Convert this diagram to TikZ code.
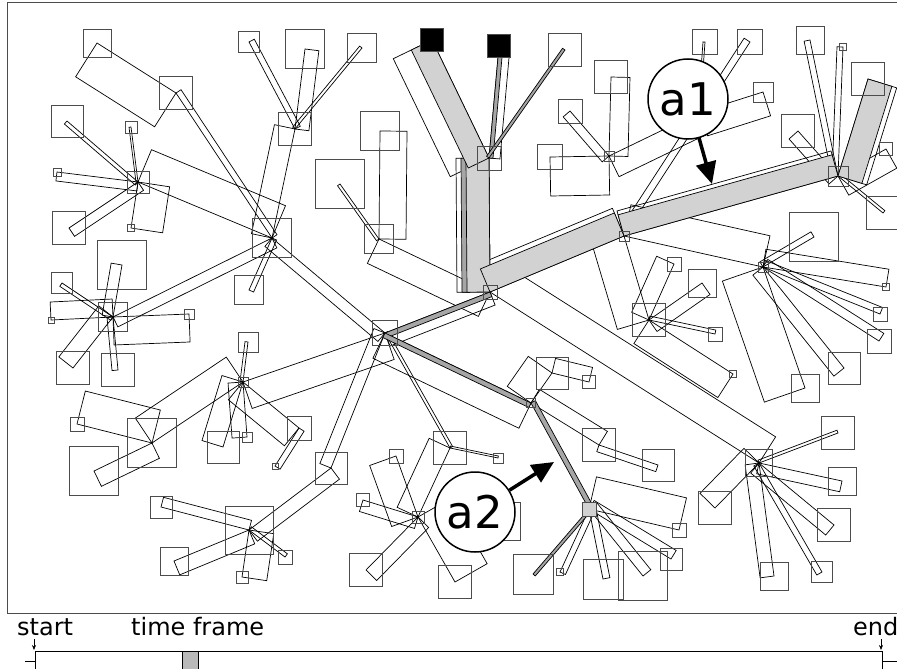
\documentclass[tikz,border=0pt]{standalone}
\usepackage{fontspec}
\setmainfont{DejaVu Sans}
\usetikzlibrary{arrows.meta, calc}

\pgfdeclarelayer{bg}
\pgfsetlayers{bg,main}

\tikzset{
	sq/.style={draw=black!70, line width=0.8pt, minimum size=#1pt, inner sep=0pt, outer sep=0pt},
	band/.style={draw=black, line width=0.7pt, line join=miter},
	hi/.style={fill=gray!35},
	dk/.style={fill=gray!70},
	lab/.style={circle, draw, fill=white, line width=1.5pt, minimum size=80pt, inner sep=0pt, font=\fontsize{45pt}{45pt}\selectfont},
	pointer/.style={-{Triangle[length=22pt,width=20pt]}, line width=3.5pt},
	tl/.style={inner sep=0pt, anchor=base west, font=\fontsize{24pt}{24pt}\selectfont},
}

% one edge of the tree: a strip from #2 to #3 of width #4
\newcommand{\tband}[4][]{%
	\draw[band,#1] (#2.center) -- (#3.center) -- ($(#3.center)!#4pt!-90:(#2.center)$) -- ($(#2.center)!#4pt!90:(#3.center)$) -- cycle;}

\begin{document}
\begin{tikzpicture}[x=1pt,y=-1pt]
	\useasboundingbox (0,0) rectangle (897,669);
	
	\draw [black!70, line width=0.9pt] (910,2) -- (7,2) -- (7,613) -- (910,613);
	
	% hubs
	\node (R) [sq=14] at (490,292) {};
	\node (H1) [sq=24] at (489,158) {};
	\node (H2) [sq=10] at (624,236) {};
	\node (H3) [sq=20] at (838,176) {};
	\node (H4) [sq=10] at (763,267) {};
	\node (H5) [sq=33] at (649,320) {};
	\node (H6) [sq=10] at (609,156) {};
	\node (X) [sq=10] at (700,112) {};
	\node (NA) [sq=29] at (379,239) {};
	\node (hA) [sq=39] at (272,238) {};
	\node (hB) [sq=22] at (138,182) {};
	\node (hC) [sq=33] at (295,129) {};
	\node (hD) [sq=29] at (113,317) {};
	\node (hE) [sq=25] at (385,333) {};
	\node (hF) [sq=10] at (243,382) {};
	\node (hG) [sq=48] at (249,530) {};
	\node (hJ) [sq=12] at (418,517) {};
	\node (hK) [sq=9] at (531,403) {};
	\node (hL) [sq=14, fill=gray!35] at (589,509) {};
	\node (hM) [sq=27] at (759,463) {};
	\node (B1) [sq=23, fill=black] at (499,46) {};
	\node (B2) [sq=23, fill=black] at (432,40) {};
	
	% leaves
	\node (n1) [sq=33] at (176,93) {};
	\node (l1) [sq=28] at (97,43) {};
	\node (aL) [sq=29] at (249,290) {};
	\node (bL1) [sq=32] at (67,121) {};
	\node (bL2) [sq=12] at (131,127) {};
	\node (bL3) [sq=8] at (57,172) {};
	\node (bL4) [sq=33] at (69,228) {};
	\node (bL5) [sq=7] at (131,228) {};
	\node (cL1) [sq=21] at (249,42) {};
	\node (cL2) [sq=39] at (305,49) {};
	\node (cL3) [sq=29] at (362,48) {};
	\node (dL1) [sq=21] at (62,283) {};
	\node (dL2) [sq=49] at (122,265) {};
	\node (dL3) [sq=6] at (51,320) {};
	\node (dL4) [sq=10] at (189,314) {};
	\node (dL5) [sq=33] at (73,368) {};
	\node (dL6) [sq=33] at (118,370) {};
	\node (fL1) [sq=20] at (248,342) {};
	\node (fN) [sq=49] at (152,443) {};
	\node (fL2) [sq=14] at (77,424) {};
	\node (fL3) [sq=49] at (94,471) {};
	\node (fL4) [sq=32] at (223,447) {};
	\node (fL5) [sq=10] at (247,437) {};
	\node (fN2) [sq=24] at (299,428) {};
	\node (fL6) [sq=6] at (275,466) {};
	\node (gL1) [sq=22] at (161,507) {};
	\node (gL2) [sq=28] at (174,561) {};
	\node (gL3) [sq=12] at (242,577) {};
	\node (gL4) [sq=14] at (285,557) {};
	\node (gN) [sq=32] at (331,468) {};
	\node (aaL1) [sq=49] at (340,184) {};
	\node (aaL2) [sq=39] at (380,131) {};
	\node (eN) [sq=33] at (450,448) {};
	\node (eL1) [sq=10] at (498,458) {};
	\node (jL1) [sq=14] at (396,456) {};
	\node (jL2) [sq=13] at (363,500) {};
	\node (jL3) [sq=33] at (366,570) {};
	\node (jL4) [sq=33] at (455,582) {};
	\node (jL5) [sq=38] at (501,521) {};
	\node (kN) [sq=32] at (552,373) {};
	\node (kL1) [sq=13] at (589,382) {};
	\node (kN2) [sq=33] at (599,445) {};
	\node (kL2) [sq=32] at (658,465) {};
	\node (lL1) [sq=40] at (533,574) {};
	\node (lL2) [sq=7] at (560,572) {};
	\node (lL3) [sq=40] at (603,579) {};
	\node (lL4) [sq=49] at (643,576) {};
	\node (lL5) [sq=22] at (671,559) {};
	\node (lL6) [sq=14] at (679,530) {};
	\node (mL1) [sq=33] at (838,433) {};
	\node (mL2) [sq=28] at (842,481) {};
	\node (mL3) [sq=33] at (834,525) {};
	\node (mL4) [sq=21] at (822,572) {};
	\node (mL5) [sq=28] at (774,576) {};
	\node (mL6) [sq=33] at (715,508) {};
	\node (pL1) [sq=14] at (674,264) {};
	\node (pL2) [sq=28] at (702,283) {};
	\node (pL3) [sq=14] at (715,334) {};
	\node (pL4) [sq=7] at (733,374) {};
	\node (qL1) [sq=49] at (814,237) {};
	\node (qL2) [sq=7] at (886,287) {};
	\node (qL3) [sq=14] at (880,314) {};
	\node (qL4) [sq=24] at (879,341) {};
	\node (qL5) [sq=32] at (844,368) {};
	\node (qL6) [sq=28] at (805,388) {};
	\node (tL1) [sq=28] at (810,40) {};
	\node (tL2) [sq=7] at (843,47) {};
	\node (tL3) [sq=33] at (868,79) {};
	\node (tL4) [sq=13] at (886,149) {};
	\node (tL5) [sq=33] at (883,213) {};
	\node (tL6) [sq=33] at (798,131) {};
	\node (sL1) [sq=33] at (611,77) {};
	\node (sL2) [sq=24] at (570,111) {};
	\node (sL3) [sq=25] at (550,157) {};
	\node (sL4) [sq=20] at (763,92) {};
	\node (xL) [sq=25] at (705,42) {};
	\node (wL1) [sq=25] at (750,42) {};
	\node (uL1) [sq=33] at (565,50) {};
	
	\begin{pgfonlayer}{bg}
	\tband{hB}{hA}{35}
	\tband{hA}{n1}{-6}
	\tband{n1}{l1}{40}
	\tband{hA}{aL}{5}
	\tband{hA}{hC}{21}
	\tband{hA}{hD}{11}
	\tband{hA}{hE}{-11}
	\tband{hC}{cL1}{-6}
	\tband{hC}{cL2}{-14}
	\tband{hC}{cL3}{3}
	\tband{hB}{bL1}{4}
	\tband{hB}{bL2}{2}
	\tband{hB}{bL3}{9}
	\tband{hB}{bL4}{10}
	\tband{hB}{bL5}{32}
	\tband{hD}{dL1}{4}
	\tband{hD}{dL2}{11}
	\tband{hD}{dL3}{-18}
	\tband{hD}{dL4}{-28}
	\tband{hD}{dL5}{-18}
	\tband{hD}{dL6}{-6}
	\tband{hF}{fL1}{3}
	\tband{hF}{fN}{-30}
	\tband{fN}{fL2}{-34}
	\tband{fN}{fL3}{17}
	\tband{hF}{fL4}{-22}
	\tband{hF}{fL5}{-15}
	\tband{hF}{fN2}{-23}
	\tband{fN2}{fL6}{6}
	\tband{hE}{hF}{28}
	\tband{hG}{gL1}{-10}
	\tband{hG}{gL2}{15}
	\tband{hG}{gL3}{25}
	\tband{hG}{gL4}{4}
	\tband{hG}{gN}{-14}
	\tband{gN}{hE}{12}
	\tband{NA}{aaL1}{3}
	\tband{NA}{aaL2}{-27}
	\tband{NA}{R}{-27}
	\tband{hE}{eN}{3}
	\tband{eN}{eL1}{2}
	\tband{eN}{hJ}{-23}
	\tband{hJ}{jL1}{28}
	\tband{hJ}{jL2}{12}
	\tband{hJ}{jL3}{15}
	\tband{hJ}{jL4}{37}
	\tband{hE}{hK}{-28}
	\tband{R}{hE}{14}
	\tband{hK}{kN}{29}
	\tband{kN}{kL1}{15}
	\tband{hK}{kN2}{16}
	\tband{kN2}{kL2}{-7}
	\tband{hL}{lL2}{6}
	\tband{hL}{lL3}{7}
	\tband{hL}{lL4}{10}
	\tband{hL}{lL5}{10}
	\tband{hL}{lL6}{33}
	\tband{R}{hM}{31}
	\tband{hM}{mL1}{3}
	\tband{hM}{mL2}{-11}
	\tband{hM}{mL3}{-13}
	\tband{hM}{mL4}{-6}
	\tband{hM}{mL5}{-14}
	\tband{hM}{mL6}{-21}
	\tband{H2}{H5}{-33}
	\tband{H5}{pL1}{19}
	\tband{H5}{pL2}{-14}
	\tband{H5}{pL3}{4}
	\tband{H5}{pL4}{-28}
	\tband{H2}{H4}{32}
	\tband{H4}{qL1}{6}
	\tband{H4}{qL2}{18}
	\tband{H4}{qL3}{7}
	\tband{H4}{qL4}{9}
	\tband{H4}{qL5}{-13}
	\tband{H4}{qL6}{-43}
	\tband{H3}{tL1}{6}
	\tband{H3}{tL2}{6}
	\tband{H3}{tL4}{-22}
	\tband{H3}{tL5}{3}
	\tband{H3}{tL6}{12}
	\tband{H6}{sL1}{-19}
	\tband{H6}{sL2}{9}
	\tband{H6}{sL3}{39}
	\tband{H6}{X}{-23}
	\tband{X}{sL4}{-25}
	\tband{X}{xL}{2}
	\tband{H2}{wL1}{7}
	\tband{H1}{B1}{-11}
	\tband{R}{H1}{33}
	\tband{H1}{B2}{43}
	\tband{R}{H2}{30}
	\tband{H2}{H3}{26}
	\tband{H3}{tL3}{-30}
	
	\tband[dk]{R}{H1}{28}
	\tband[hi]{R}{H1}{23}
	\tband[hi]{H1}{B2}{23}
	\tband[hi]{R}{H2}{25}
	\tband[hi]{H2}{H3}{22}
	\tband[hi]{H3}{tL3}{-25}
	
	\tband[dk]{H1}{B1}{-4}
	\tband[dk]{H1}{uL1}{3}
	\tband[dk]{R}{hE}{5}
	\tband[dk]{hE}{hK}{-5}
	\tband[dk]{hK}{hL}{5}
	\tband[dk]{hL}{lL1}{3}
	\end{pgfonlayer}
	
	\node (aone) [lab] at (688,99) {a1};
	\coordinate (aonetip) at (712,184);
	\draw [pointer] (aone) -- (aonetip);
	
	\node (atwo) [lab] at (475,512) {a2};
	\coordinate (atwotip) at (554,462);
	\draw [pointer] (atwo) -- (atwotip);
	
	% time line
	\draw [black, line width=0.9pt] (35,672) -- (35,651) -- (882,651) -- (882,672);
	\draw [black, line width=0.9pt] (25,661) -- (35,661);
	\draw [black, line width=0.9pt] (882,661) -- (900,661);
	\node (tfbar) [draw, line width=0.8pt, fill=gray!55, minimum width=16pt, minimum height=22pt, inner sep=0pt, anchor=north west] at (182,651) {};
	
	\node (start) [tl] at (17,635) {start};
	\node (tframe) [tl] at (131,635) {time frame};
	\node (endlab) [tl] at (853,635) {end};
	\coordinate (s0) at (34,639);
	\coordinate (s1) at (34,650);
	\coordinate (e0) at (881,639);
	\coordinate (e1) at (881,650);
	\draw [-{Stealth[length=5pt,width=4pt]}, line width=0.6pt] (s0) -- (s1);
	\draw [-{Stealth[length=5pt,width=4pt]}, line width=0.6pt] (e0) -- (e1);
	
\end{tikzpicture}
\end{document}
